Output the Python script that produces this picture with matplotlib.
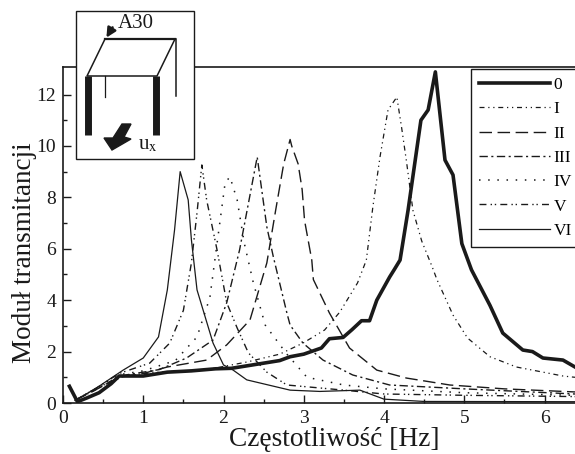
import matplotlib
matplotlib.use("Agg")
import matplotlib.pyplot as plt
from matplotlib.patches import Polygon, Rectangle

plt.rcParams['font.family'] = ['Liberation Serif', 'DejaVu Serif']
plt.rcParams['mathtext.fontset'] = 'stix'

# values
x0 = [0.08, 0.18, 0.3, 0.45, 0.6, 0.7, 1.0, 1.3, 1.6, 1.9, 2.1, 2.4, 2.7, 2.83, 3.0, 3.22, 3.32, 3.49, 3.6, 3.72, 3.82,
      3.91, 4.07, 4.13, 4.2, 4.3, 4.46, 4.55, 4.64, 4.76, 4.86, 4.97, 5.09, 5.32, 5.48, 5.73, 5.85, 5.98, 6.23, 6.38]
y0 = [0.65, 0.05, 0.2, 0.4, 0.75, 1.05, 1.05, 1.2, 1.25, 1.33, 1.35, 1.5, 1.65, 1.8, 1.9, 2.14, 2.5, 2.55, 2.85, 3.2, 3.2,
      4.0, 4.9, 5.2, 5.56, 7.5, 11.0, 11.4, 12.88, 9.45, 8.87, 6.2, 5.18, 3.8, 2.72, 2.06, 2.0, 1.75, 1.67, 1.4]

x1 = [0.15, 0.4, 0.7, 1.2, 1.8, 2.3, 2.7, 2.99, 3.26, 3.45, 3.67, 3.78, 3.86, 3.95, 4.05, 4.16, 4.22, 4.28, 4.36, 4.47,
      4.6, 4.66, 4.86, 5.04, 5.32, 5.65, 6.23, 6.38]
y1 = [0.1, 0.5, 1.05, 1.2, 1.3, 1.6, 1.9, 2.33, 2.84, 3.54, 4.67, 5.56, 7.6, 9.57, 11.4, 11.9, 10.7, 9.4, 7.5, 6.3,
      5.3, 4.8, 3.42, 2.53, 1.8, 1.4, 1.05, 1.0]

x2 = [0.15, 0.4, 0.7, 1.0, 1.3, 1.79, 2.04, 2.33, 2.54, 2.65, 2.75, 2.83, 2.85, 2.93, 2.98, 3.01, 3.1, 3.12, 3.32, 3.57,
      3.91, 4.28, 4.82, 5.5, 6.38]
y2 = [0.1, 0.5, 1.0, 1.15, 1.4, 1.67, 2.26, 3.23, 5.45, 7.5, 9.3, 10.25, 10.0, 9.3, 8.3, 7.1, 5.56, 4.8, 3.5, 2.14,
      1.28, 0.97, 0.7, 0.55, 0.43]

x3 = [0.15, 0.4, 0.8, 1.2, 1.54, 1.87, 2.04, 2.2, 2.27, 2.42, 2.54, 2.62, 2.79, 2.83, 2.99, 3.24, 3.61, 4.07, 5.0, 6.38]
y3 = [0.1, 0.55, 1.1, 1.3, 1.75, 2.45, 3.9, 5.95, 7.1, 9.57, 6.85, 5.7, 3.5, 3.03, 2.33, 1.67, 1.09, 0.7, 0.55, 0.35]

x4 = [0.15, 0.4, 0.7, 1.0, 1.4, 1.67, 1.83, 2.02, 2.08, 2.17, 2.26, 2.37, 2.52, 2.79, 3.04, 3.5, 4.0, 5.0, 6.38]
y4 = [0.1, 0.55, 1.1, 1.25, 1.65, 2.57, 4.1, 8.56, 8.8, 7.9, 6.2, 4.7, 3.03, 1.9, 1.0, 0.7, 0.55, 0.4, 0.3]

x5 = [0.15, 0.4, 0.7, 1.08, 1.33, 1.5, 1.6, 1.67, 1.73, 1.79, 1.92, 2.04, 2.17, 2.31, 2.54, 2.79, 3.5, 4.0, 5.0, 6.38]
y5 = [0.1, 0.55, 1.15, 1.55, 2.33, 3.6, 5.45, 7.4, 9.26, 7.9, 5.95, 3.9, 2.92, 1.95, 1.2, 0.7, 0.5, 0.35, 0.3, 0.25]

x6 = [0.15, 0.4, 0.75, 1.0, 1.19, 1.3, 1.39, 1.46, 1.56, 1.6, 1.67, 1.87, 2.0, 2.12, 2.29, 2.83, 3.2, 3.7, 4.0, 4.5, 6.38]
y6 = [0.1, 0.55, 1.28, 1.75, 2.57, 4.4, 6.73, 9.0, 7.9, 6.35, 4.4, 2.33, 1.48, 1.28, 0.9, 0.5, 0.45, 0.5, 0.15, 0.06, 0.05]

series_labels = ['0', 'I', 'II', 'III', 'IV', 'V', 'VI']
x_ticks = [0, 1, 2, 3, 4, 5, 6]
y_ticks = [0, 2, 4, 6, 8, 10, 12]

ink = '#1a1a1a'

fig = plt.figure(figsize=(5.75, 4.54), dpi=100)
# axes box in pixels of the picture: x 63..575, y 67..403
ax = fig.add_axes([63 / 575, 1 - 403 / 454, 512 / 575, 336 / 454])

ax.plot(x0, y0, color=ink, lw=2.6, label=series_labels[0], zorder=5)
ax.plot(x1, y1, color=ink, lw=0.9, ls=(0, (4, 3, 1, 3, 1, 3)), label=series_labels[1])
ax.plot(x2, y2, color=ink, lw=1.0, ls=(0, (9, 4)), label=series_labels[2])
ax.plot(x3, y3, color=ink, lw=1.0, ls=(0, (6, 2.5, 1.5, 2.5)), label=series_labels[3])
ax.plot(x4, y4, color=ink, lw=1.1, ls=(0, (1, 5)), label=series_labels[4])
ax.plot(x5, y5, color=ink, lw=1.0, ls=(0, (5, 3, 1, 2, 1, 3)), label=series_labels[5])
ax.plot(x6, y6, color=ink, lw=0.9, label=series_labels[6])

ax.set_xlim(0, 6.38)
ax.set_ylim(0, 13.07)
ax.set_xticks(x_ticks)
ax.set_yticks(y_ticks)
ax.set_xticks([0.5, 1.5, 2.5, 3.5, 4.5, 5.5], minor=True)
ax.set_yticks([1, 3, 5, 7, 9, 11], minor=True)
ax.tick_params(which='major', direction='in', length=6, width=1, labelsize=14, colors=ink, pad=5)
ax.tick_params(which='minor', direction='in', length=3, width=1, colors=ink)
ax.spines['right'].set_visible(False)
for side in ['left', 'top', 'bottom']:
    ax.spines[side].set_linewidth(1.2)
    ax.spines[side].set_color(ink)

leg = ax.legend(loc='upper left', bbox_to_anchor=(471 / 575, 1 - 69 / 454), bbox_transform=fig.transFigure,
                fontsize=12.5, handlelength=4.1, handletextpad=0.2, labelspacing=0.47, borderpad=0.45,
                borderaxespad=0, fancybox=False, framealpha=1, edgecolor=ink)
leg.get_frame().set_linewidth(1.0)

fig.text(334 / 575, 1 - 439 / 454, 'Częstotliwość [Hz]', ha='center', va='center', fontsize=19.7, color=ink)
fig.text(25 / 575, 1 - 253 / 454, 'Moduł transmitancji', ha='center', va='center', rotation=90, fontsize=19.5, color=ink)

# inset sketch, drawn in picture pixels
sk = fig.add_axes([0, 0, 1, 1], zorder=10)
sk.set_xlim(0, 575)
sk.set_ylim(454, 0)
sk.axis('off')
sk.add_patch(Rectangle((76, 11), 118, 148, facecolor='white', edgecolor=ink, lw=1.0))
sk.plot([105, 175, 157, 87, 105], [39, 39, 76, 76, 39], color=ink, lw=1.1)
sk.plot([105, 175], [39, 39], color=ink, lw=1.6)
sk.plot([105, 105], [76, 97], color=ink, lw=0.9)
sk.plot([176, 176], [39, 96], color=ink, lw=1.1)
sk.plot([88, 88], [76, 135], color=ink, lw=5, solid_capstyle='butt')
sk.plot([156, 156], [76, 135], color=ink, lw=5, solid_capstyle='butt')
sk.annotate('', xy=(105, 40), xytext=(114, 25), arrowprops=dict(arrowstyle='-|>', color=ink, lw=1.8, mutation_scale=14))
sk.add_patch(Polygon([(122, 124), (131, 124), (124, 137), (131, 139), (112, 150), (104, 138), (113, 138)], color=ink))
sk.text(118, 23, 'A30', fontsize=15, ha='left', va='center', color=ink)
sk.text(138, 145, 'u$_{\\mathrm{x}}$', fontsize=15, ha='left', va='center', color=ink)

fig.savefig('out.png', dpi=100)
